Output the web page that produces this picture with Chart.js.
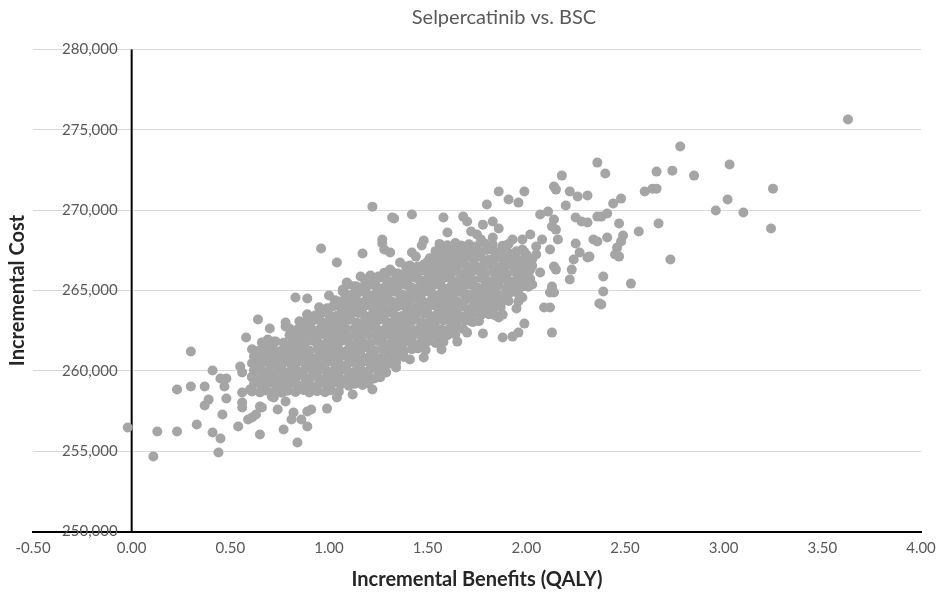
<!DOCTYPE html>
<html>
<head>
<meta charset="utf-8">
<script src="https://cdn.jsdelivr.net/npm/chart.js@4.4.1/dist/chart.umd.min.js"></script>
<style>
  html, body { margin: 0; padding: 0; background: #fff; }
  #wrap { width: 936px; height: 593px; }
</style>
</head>
<body>
<div id="wrap"><canvas id="psa-plane"></canvas></div>
<script>
const chartTitle = 'Selpercatinib vs. BSC';
const xAxisTitle = 'Incremental Benefits (QALY)';
const yAxisTitle = 'Incremental Cost';

const xTickValues = [-0.5, 0, 0.5, 1, 1.5, 2, 2.5, 3, 3.5, 4];
const yTickValues = [250000, 255000, 260000, 265000, 270000, 275000, 280000];

// PSA iterations: [incremental QALY, incremental cost]
// sparse points around the cloud
const outerPoints = [
  [-0.02,256470],[0.11,254670],[0.13,256220],[0.23,256220],[0.23,258840],[0.30,261200],[0.30,259020],
  [0.37,259020],[0.33,256660],[0.41,256160],[0.39,258210],[0.37,257840],[0.41,260020],[0.45,259520],
  [0.48,259520],[0.47,259020],[0.48,258280],[0.46,257280],[0.44,254920],[0.45,255790],[0.54,256530],
  [0.58,262070],[0.55,260270],[0.56,259900],[0.56,258650],[0.56,258030],[0.56,257720],[0.59,256970],
  [0.61,257090],[0.63,257280],[0.65,256040],[0.65,257780],[0.66,257720],[0.63,260890],[0.69,261950],
  [0.72,261820],[0.71,258400],[0.72,258340],[0.74,257590],[0.77,258710],[0.78,258090],[0.77,256350],
  [0.82,257410],[0.81,256970],[0.84,255540],[0.86,256970],[0.89,257470],[0.60,258840],[0.61,259650],
  [0.65,260270],
  [0.83,264560],[0.89,264500],[1.00,264690],[0.64,263190],[0.70,262630],[0.78,263010],[0.78,262760],
  [0.63,261200],[0.66,261010],[0.71,260520],[0.75,261140],[0.79,261200],[0.84,261140],[0.85,262130],
  [0.89,263190],[0.89,263500],[0.99,263820],[1.03,263190],[1.07,265060],[1.09,265500],[1.14,265250],
  [1.05,264310],[1.12,264000],
  [0.96,267610],[1.04,266740],[1.17,267300],[1.27,267920],[1.28,267550],[1.31,267360],[1.32,269540],
  [1.58,269540],[1.60,268610],[1.48,268110],[1.47,267800],[1.42,267360],[1.44,267110],[1.54,267180],
  [1.55,266800],[1.50,266800],[1.36,266740],[1.39,266490],[1.43,266370],[1.31,266300],[1.16,265870],
  [1.21,265930],[1.25,265870],[1.22,265500],[1.10,265370],[1.16,265120],[1.07,264940],[1.63,267670],
  [1.65,267360],[1.62,266740],
  [0.91,257590],[0.99,257650],[0.89,256530],[1.12,258530],[1.04,258340],[1.22,258840],[1.29,259900],
  [1.34,260210],[1.41,260700],[1.48,260830],[1.57,261330],[1.65,261820],[1.55,262260],
  [2.18,272150],[2.14,271470],[2.15,271280],[2.22,271160],[2.26,270850],[2.31,270910],[1.86,271160],
  [1.99,271160],[1.91,270660],[1.96,270470],[1.80,270350],[2.20,270290],[2.07,269730],[2.11,269910],
  [1.68,269600],[1.70,269290],[1.83,269290],[1.78,269100],[2.14,269420],[2.13,268980],[2.15,268790],
  [2.25,269540],[2.28,269290],[2.31,269230],[2.36,269600],[1.86,268860],[1.72,268670],[1.75,268480],
  [1.77,268170],[1.83,268300],[1.93,268170],[2.02,268480],[2.08,268170],[2.16,268170],[2.25,267920],
  [2.34,268170],[1.98,267550],[2.05,267740],[1.98,268170],[2.00,267240],[2.05,267240],[2.12,267550],
  [2.14,266490],[2.15,266300],[2.24,266930],[2.27,267360],[2.31,267050],[2.23,266300],[2.22,265680],
  [2.02,266300],[2.07,266120],[2.13,265250],
  [2.12,264870],[2.14,264870],[2.09,263940],[2.12,263940],[2.37,264190],[2.13,262380],[1.99,262940],
  [1.96,262380],[1.93,262130],[1.88,262070],[1.78,262320],[1.95,263880],[1.96,264310],[1.98,264560],
  [2.03,265370],[1.98,265250],[1.94,265060],[1.86,263320],[1.88,263500],[1.70,262380],[1.72,263070],
  [1.78,263690],[1.80,264250],[1.83,264440],[1.87,264250],
  [2.78,273960],[2.36,272960],[2.40,272280],[2.66,272400],[2.74,272460],[2.85,272150],[3.03,272840],
  [3.02,270660],[2.96,269980],[2.60,271160],[2.64,271340],[2.66,271340],[2.48,270720],[2.44,270410],
  [2.41,269790],[2.38,269600],[2.47,269170],[2.57,268670],[2.67,269170],[2.49,268420],[2.48,268050],
  [2.41,268300],[2.36,268050],[2.46,267670],[2.45,267240],[2.73,266930],
  [2.47,267110],[2.32,267110],[2.39,265870],[2.53,265430],[2.39,264940],[2.38,264130],
  [3.63,275640],[3.25,271340],[3.24,268860],[3.10,269850],
  [1.22,270220],[1.33,269480],[1.42,269730],[1.27,268170]
];

// dense core of the cloud
const corePoints = [
  [1.56,267900],[1.60,267820],[1.64,267950],[1.67,267800],[1.71,267880],[1.75,267760],[1.79,267930],[1.83,267850],[1.88,267780],[1.91,267900],
  [1.54,267450],[1.58,267380],[1.61,267500],[1.65,267420],[1.69,267350],[1.72,267480],[1.76,267400],[1.80,267520],[1.84,267380],[1.87,267460],[1.91,267350],[1.95,267440],[1.99,267400],
  [1.51,267000],[1.55,266930],[1.58,267060],[1.62,266980],[1.66,266900],[1.69,267040],[1.73,266960],[1.77,267080],[1.81,266920],[1.84,267010],[1.88,266950],[1.92,267070],[1.96,266900],[2.00,267000],[2.03,266950],
  [1.41,266560],[1.45,266500],[1.48,266620],[1.52,266540],[1.56,266470],[1.59,266600],[1.63,266520],[1.67,266650],[1.70,266480],[1.74,266580],[1.78,266520],[1.81,266640],[1.85,266470],[1.89,266560],[1.92,266610],[1.96,266500],[2.00,266580],[2.03,266520],
  [1.28,266100],[1.32,266170],[1.35,266060],[1.39,266140],[1.43,266080],[1.46,266200],[1.50,266110],[1.54,266050],[1.57,266180],[1.61,266090],[1.65,266150],[1.68,266030],[1.72,266130],[1.76,266200],[1.79,266070],[1.83,266160],[1.87,266100],[1.90,266040],[1.94,266170],[1.98,266090],[2.01,266140],
  [1.18,265700],[1.22,265640],[1.25,265760],[1.29,265680],[1.33,265610],[1.36,265730],[1.40,265660],[1.44,265780],[1.47,265620],[1.51,265700],[1.55,265650],[1.58,265760],[1.62,265690],[1.66,265600],[1.69,265720],[1.73,265650],[1.77,265780],[1.80,265630],[1.84,265700],[1.88,265740],[1.91,265620],[1.95,265690],[1.99,265660],[2.02,265720],
  [1.13,265260],[1.17,265200],[1.20,265320],[1.24,265240],[1.28,265180],[1.31,265300],[1.35,265230],[1.39,265350],[1.42,265190],[1.46,265270],[1.50,265210],[1.53,265330],[1.57,265250],[1.61,265170],[1.64,265290],[1.68,265220],[1.72,265340],[1.75,265200],[1.79,265280],[1.83,265230],[1.86,265310],[1.90,265190],[1.94,265260],[1.97,265320],[2.01,265240],
  [1.08,264820],[1.12,264760],[1.15,264880],[1.19,264800],[1.23,264740],[1.26,264860],[1.30,264790],[1.34,264910],[1.37,264750],[1.41,264830],[1.45,264770],[1.48,264890],[1.52,264810],[1.56,264730],[1.59,264850],[1.63,264780],[1.67,264900],[1.70,264760],[1.74,264840],[1.78,264790],[1.81,264870],[1.85,264750],[1.89,264820],[1.92,264880],[1.96,264780],
  [1.03,264390],[1.07,264330],[1.10,264450],[1.14,264370],[1.18,264310],[1.21,264430],[1.25,264360],[1.29,264480],[1.32,264320],[1.36,264400],[1.40,264340],[1.43,264460],[1.47,264380],[1.51,264300],[1.54,264420],[1.58,264350],[1.62,264470],[1.65,264330],[1.69,264410],[1.73,264360],[1.76,264440],[1.80,264320],[1.84,264390],[1.87,264450],[1.91,264350],
  [0.95,263950],[0.99,263890],[1.02,264010],[1.06,263930],[1.10,263870],[1.13,263990],[1.17,263920],[1.21,264040],[1.24,263880],[1.28,263960],[1.32,263900],[1.35,264020],[1.39,263940],[1.43,263860],[1.46,263980],[1.50,263910],[1.54,264030],[1.57,263890],[1.61,263970],[1.65,263920],[1.68,264000],[1.72,263880],[1.76,263950],[1.79,264010],[1.83,263910],[1.87,263960],
  [0.89,263510],[0.93,263450],[0.96,263570],[1.00,263490],[1.04,263430],[1.07,263550],[1.11,263480],[1.15,263600],[1.18,263440],[1.22,263520],[1.26,263460],[1.29,263580],[1.33,263500],[1.37,263420],[1.40,263540],[1.44,263470],[1.48,263590],[1.51,263450],[1.55,263530],[1.59,263480],[1.62,263560],[1.66,263440],[1.70,263510],[1.73,263570],[1.77,263470],[1.81,263520],[1.84,263460],
  [0.85,263080],[0.88,263020],[0.92,263140],[0.96,263060],[0.99,263000],[1.03,263120],[1.07,263050],[1.10,263170],[1.14,263010],[1.18,263090],[1.21,263030],[1.25,263150],[1.29,263070],[1.32,262990],[1.36,263110],[1.40,263040],[1.43,263160],[1.47,263020],[1.51,263100],[1.54,263050],[1.58,263130],[1.62,263010],[1.65,263080],[1.69,263140],[1.73,263040],[1.76,263090],
  [0.80,262640],[0.84,262580],[0.87,262700],[0.91,262620],[0.95,262560],[0.98,262680],[1.02,262610],[1.06,262730],[1.09,262570],[1.13,262650],[1.17,262590],[1.20,262710],[1.24,262630],[1.28,262550],[1.31,262670],[1.35,262600],[1.39,262720],[1.42,262580],[1.46,262660],[1.50,262610],[1.53,262690],[1.57,262570],[1.61,262640],[1.64,262700],[1.68,262600],
  [0.80,262210],[0.83,262150],[0.87,262270],[0.91,262190],[0.94,262130],[0.98,262250],[1.02,262180],[1.05,262300],[1.09,262140],[1.13,262220],[1.16,262160],[1.20,262280],[1.24,262200],[1.27,262120],[1.31,262240],[1.35,262170],[1.38,262290],[1.42,262150],[1.46,262230],[1.49,262180],[1.53,262260],[1.57,262140],[1.60,262210],[1.64,262270],
  [0.66,261770],[0.70,261710],[0.73,261830],[0.77,261750],[0.81,261690],[0.84,261810],[0.88,261740],[0.92,261860],[0.95,261700],[0.99,261780],[1.03,261720],[1.06,261840],[1.10,261760],[1.14,261680],[1.17,261800],[1.21,261730],[1.25,261850],[1.28,261710],[1.32,261790],[1.36,261740],[1.39,261820],[1.43,261700],[1.47,261770],[1.50,261830],[1.54,261730],[1.58,261790],
  [0.61,261340],[0.65,261280],[0.68,261400],[0.72,261320],[0.76,261260],[0.79,261380],[0.83,261310],[0.87,261430],[0.90,261270],[0.94,261350],[0.98,261290],[1.01,261410],[1.05,261330],[1.09,261250],[1.12,261370],[1.16,261300],[1.20,261420],[1.23,261280],[1.27,261360],[1.31,261310],[1.34,261390],[1.38,261270],[1.42,261340],[1.45,261400],[1.49,261300],
  [0.62,260900],[0.66,260840],[0.69,260960],[0.73,260880],[0.77,260820],[0.80,260940],[0.84,260870],[0.88,260990],[0.91,260830],[0.95,260910],[0.99,260850],[1.02,260970],[1.06,260890],[1.10,260810],[1.13,260930],[1.17,260860],[1.21,260980],[1.24,260840],[1.28,260920],[1.32,260870],[1.35,260950],[1.38,260860],
  [0.61,260470],[0.65,260410],[0.69,260530],[0.72,260450],[0.76,260390],[0.80,260510],[0.83,260440],[0.87,260560],[0.91,260400],[0.94,260480],[0.98,260420],[1.02,260540],[1.05,260460],[1.09,260380],[1.13,260500],[1.16,260430],[1.20,260550],[1.24,260410],[1.27,260490],[1.31,260440],[1.34,260500],
  [0.62,260030],[0.66,259970],[0.70,260090],[0.73,260010],[0.77,259950],[0.81,260070],[0.84,260000],[0.88,260120],[0.92,259960],[0.95,260040],[0.99,259980],[1.03,260100],[1.06,260020],[1.10,259940],[1.14,260060],[1.17,259990],[1.21,260110],[1.25,259970],[1.28,260050],
  [0.61,259590],[0.65,259530],[0.68,259650],[0.72,259570],[0.76,259510],[0.79,259630],[0.83,259560],[0.87,259680],[0.90,259520],[0.94,259600],[0.98,259540],[1.01,259660],[1.05,259580],[1.09,259500],[1.12,259620],[1.16,259550],[1.20,259670],[1.23,259530],[1.26,259600],
  [0.62,259160],[0.66,259100],[0.69,259220],[0.73,259140],[0.77,259080],[0.80,259200],[0.84,259130],[0.88,259250],[0.91,259090],[0.95,259170],[0.99,259110],[1.02,259230],[1.06,259150],[1.10,259070],[1.13,259190],[1.17,259120],[1.20,259210],
  [0.61,258720],[0.65,258660],[0.68,258780],[0.72,258700],[0.76,258640],[0.79,258760],[0.83,258690],[0.87,258810],[0.90,258650],[0.94,258730],[0.98,258670],[1.01,258790],[1.05,258700]
];

const FONT = 'Lato, "Open Sans", sans-serif';
const TEXT_GREY = '#595959';

const psaData = outerPoints.concat(corePoints).map(p => ({ x: p[0], y: p[1] }));

// y axis crosses at x = 0 with its labels to the left, title drawn centred above the plot
const crossAxisPlugin = {
  id: 'crossAxis',
  beforeDatasetsDraw(chart) {
    const ctx = chart.ctx;
    const x0 = chart.scales.x.getPixelForValue(0);
    const area = chart.chartArea;
    ctx.save();
    ctx.strokeStyle = '#000';
    ctx.lineWidth = 2;
    ctx.beginPath();
    ctx.moveTo(x0, area.top);
    ctx.lineTo(x0, area.bottom);
    ctx.stroke();
    ctx.restore();
  },
  afterDraw(chart) {
    const ctx = chart.ctx;
    const yScale = chart.scales.y;
    const x0 = chart.scales.x.getPixelForValue(0);
    ctx.save();
    ctx.fillStyle = TEXT_GREY;
    ctx.font = '15px ' + FONT;
    ctx.textAlign = 'right';
    ctx.textBaseline = 'middle';
    yScale.ticks.forEach(t => {
      ctx.fillText(t.value.toLocaleString('en-US'), x0 - 14, yScale.getPixelForValue(t.value));
    });
    ctx.font = '20px ' + FONT;
    ctx.textAlign = 'center';
    ctx.fillText(chartTitle, 504, 18);
    ctx.restore();
  }
};

new Chart(document.getElementById('psa-plane'), {
  type: 'scatter',
  data: {
    datasets: [{
      label: chartTitle,
      data: psaData,
      backgroundColor: '#a5a5a5',
      borderWidth: 0,
      pointRadius: 5,
      pointHoverRadius: 5
    }]
  },
  options: {
    responsive: true,
    maintainAspectRatio: false,
    animation: false,
    layout: { padding: { left: 0, right: 15, top: 49.5, bottom: 0 } },
    plugins: {
      legend: { display: false },
      tooltip: { enabled: false },
      title: { display: false }
    },
    scales: {
      x: {
        type: 'linear',
        min: -0.5,
        max: 4,
        afterBuildTicks: scale => { scale.ticks = xTickValues.map(v => ({ value: v })); },
        afterFit: scale => { scale.paddingLeft = 0; scale.paddingRight = 0; },
        grid: { display: false, drawTicks: false },
        border: { color: '#000', width: 2 },
        ticks: {
          callback: v => v.toFixed(2),
          color: TEXT_GREY,
          font: { family: FONT, size: 15 },
          padding: 8,
          maxRotation: 0,
          autoSkip: false
        },
        title: {
          display: true,
          text: xAxisTitle,
          color: '#262626',
          font: { family: FONT, size: 20, weight: 'bold' },
          padding: { top: 2, bottom: 1.5 }
        }
      },
      y: {
        type: 'linear',
        min: 250000,
        max: 280000,
        afterBuildTicks: scale => { scale.ticks = yTickValues.map(v => ({ value: v })); },
        grid: { color: '#d9d9d9', lineWidth: 1, drawTicks: false },
        border: { display: false },
        ticks: { display: false },
        title: {
          display: true,
          text: yAxisTitle,
          color: '#262626',
          font: { family: FONT, size: 20, weight: 'bold' },
          padding: { top: 6, bottom: 3 }
        }
      }
    }
  },
  plugins: [crossAxisPlugin]
});
</script>
</body>
</html>
